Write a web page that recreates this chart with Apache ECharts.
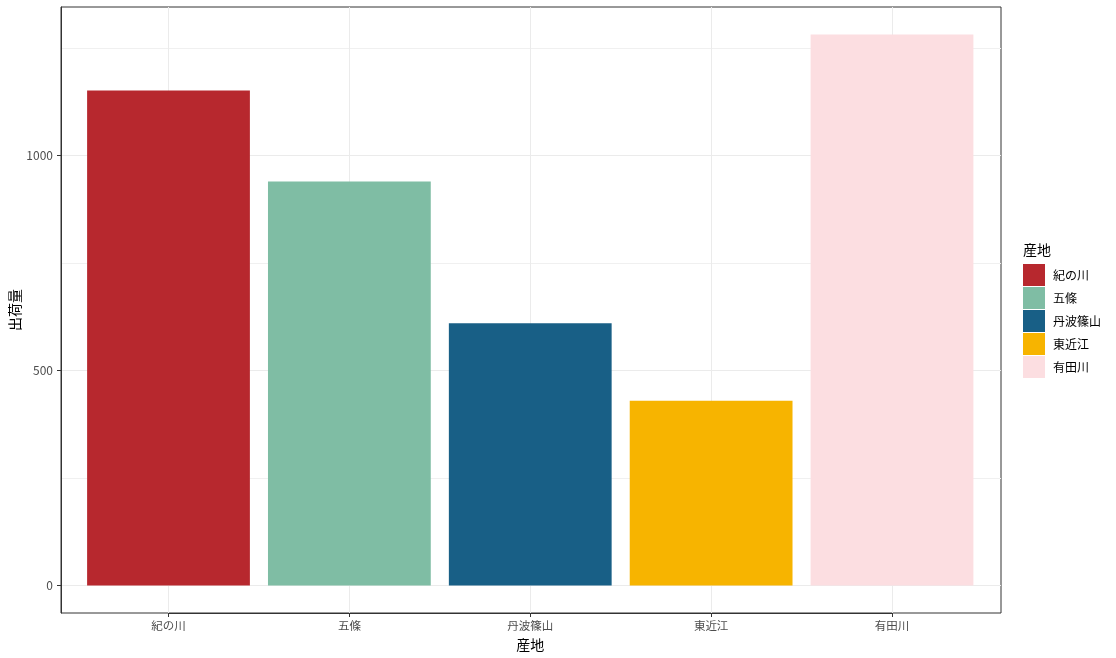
<!DOCTYPE html>
<html>
<head>
<meta charset="utf-8">
<script src="https://cdn.jsdelivr.net/npm/echarts@6/dist/echarts.min.js"></script>
<style>
html,body{margin:0;padding:0;background:#fff;}
#chart{width:1116px;height:658px;}
</style>
</head>
<body>
<div id="chart"></div>
<script>
const categories = ['紀の川', '五條', '丹波篠山', '東近江', '有田川'];
const values = [1152, 940, 610, 430, 1282];
const colors = ['#b7282e', '#7fbda4', '#185f86', '#f7b400', '#fcdee1'];
const yMajorTicks = [0, 500, 1000];
const yMinorTicks = [250, 750, 1250];
const xTitle = '産地';
const yTitle = '出荷量';
const legendTitle = '産地';

const dataMax = Math.max(...values, 0);
const dataMin = Math.min(...values, 0);
const expand = (dataMax - dataMin) * 0.05;
const yMin = dataMin - expand;
const yMax = dataMax + expand;

const FONT = "'Noto Sans CJK JP', 'Noto Sans', sans-serif";
const chart = echarts.init(document.getElementById('chart'), null, {renderer: 'canvas'});

const series = categories.map((c, i) => ({
  type: 'bar',
  name: c,
  xAxisIndex: 1,
  yAxisIndex: 2,
  stack: 'all',
  barWidth: '90%',
  clip: false,
  itemStyle: {color: colors[i]},
  emphasis: {disabled: true},
  data: values.map((v, j) => (j === i ? v : null))
}));

chart.setOption({
  animation: false,
  backgroundColor: '#ffffff',
  textStyle: {fontFamily: FONT},
  title: {
    text: legendTitle, left: 1023, top: 243, padding: 0,
    textStyle: {fontSize: 14, fontWeight: 'normal', color: '#000', fontFamily: FONT}
  },
  legend: {
    orient: 'vertical', left: 1023, top: 264, padding: 0,
    itemWidth: 22, itemHeight: 22, itemGap: 1, icon: 'rect',
    selectedMode: false,
    textStyle: {fontSize: 12, color: '#000', fontFamily: FONT, padding: [0, 0, 0, 3]},
    data: categories
  },
  grid: [
    {left: 61, top: 7, right: 115, bottom: 45, show: true, borderColor: '#333', borderWidth: 1,
     backgroundColor: '#fff', containLabel: false, outerBoundsMode: 'none'},
    {left: 168.5, top: 7, right: 224, bottom: 45, containLabel: false, outerBoundsMode: 'none'}
  ],
  xAxis: [
    {gridIndex: 0, type: 'category', data: categories, show: false},
    {
      gridIndex: 1, type: 'category', data: categories, boundaryGap: false,
      axisLine: {show: true, onZero: false, lineStyle: {color: '#333', width: 1}},
      axisTick: {show: true, length: 4, lineStyle: {color: '#333', width: 1}},
      axisLabel: {color: '#4d4d4d', fontSize: 11.5, margin: 7, fontFamily: FONT},
      splitLine: {show: true, lineStyle: {color: '#ebebeb', width: 1}},
      name: xTitle, nameLocation: 'middle', nameGap: 25, nameMoveOverlap: false,
      nameTextStyle: {fontSize: 14, color: '#000', fontFamily: FONT}
    }
  ],
  yAxis: [
    {
      gridIndex: 0, type: 'value', min: yMin, max: yMax,
      axisLine: {show: true, onZero: false, lineStyle: {color: '#333', width: 1}},
      axisTick: {show: true, length: 4, lineStyle: {color: '#333', width: 1}, customValues: yMajorTicks},
      axisLabel: {color: '#4d4d4d', fontSize: 12, margin: 8, customValues: yMajorTicks, fontFamily: FONT,
                  formatter: v => String(v)},
      splitLine: {show: true, lineStyle: {color: '#ebebeb', width: 1}},
      name: yTitle, nameLocation: 'middle', nameGap: 39, nameRotate: 90, nameMoveOverlap: false,
      nameTextStyle: {fontSize: 14, color: '#000', fontFamily: FONT}
    },
    {
      gridIndex: 0, type: 'value', min: yMin, max: yMax, position: 'left',
      axisLine: {show: false, onZero: false},
      axisTick: {show: false, customValues: yMinorTicks},
      axisLabel: {show: false, customValues: yMinorTicks},
      splitLine: {show: true, lineStyle: {color: '#f0f0f0', width: 1}}
    },
    {gridIndex: 1, type: 'value', min: yMin, max: yMax, show: false}
  ],
  series: series
});
</script>
</body>
</html>
